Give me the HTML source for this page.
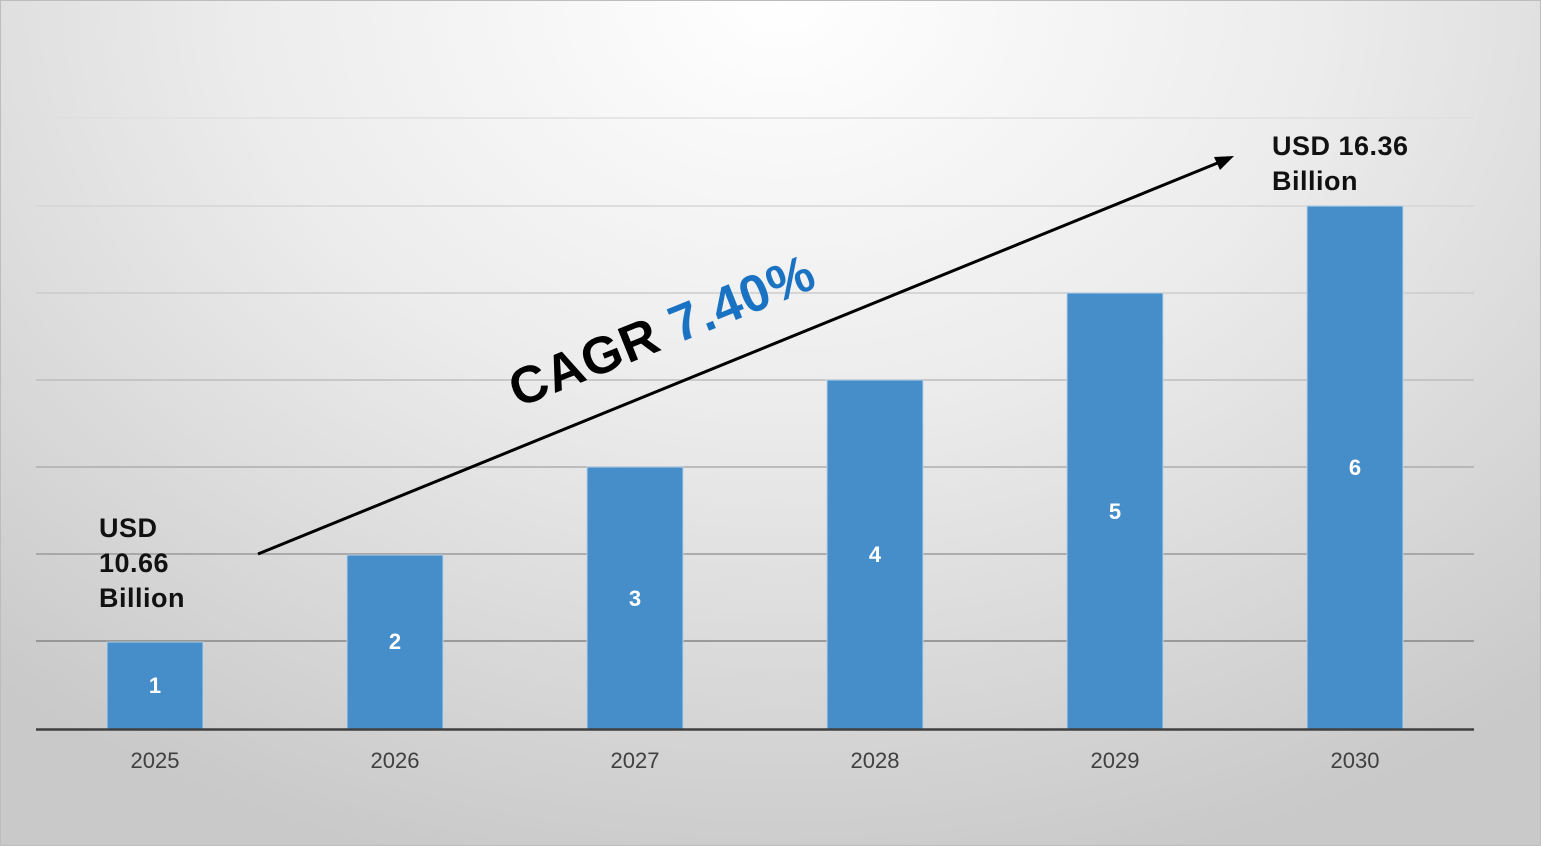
<!DOCTYPE html>
<html><head><meta charset="utf-8"><style>
html,body{margin:0;padding:0}
body{width:1541px;height:846px;overflow:hidden;background:radial-gradient(ellipse 1200px 900px at 780px 0px,#ffffff 0%,#ececec 45%,#c9c9c9 100%);}
svg{position:absolute;left:0;top:0}
</style></head><body>
<svg width="1541" height="846" xmlns="http://www.w3.org/2000/svg" font-family="Liberation Sans, DejaVu Sans, sans-serif">
<rect x="0.5" y="0.5" width="1540" height="845" fill="none" stroke="#bdbdbd"/>
<g stroke-width="1.5">
<line x1="36" x2="1474" y1="118" y2="118" stroke="#e0e0e0"/>
<line x1="36" x2="1474" y1="206" y2="206" stroke="#d6d6d6"/>
<line x1="36" x2="1474" y1="293" y2="293" stroke="#cccccc"/>
<line x1="36" x2="1474" y1="380" y2="380" stroke="#bdbdbd"/>
<line x1="36" x2="1474" y1="467" y2="467" stroke="#adadad"/>
<line x1="36" x2="1474" y1="554" y2="554" stroke="#9a9a9a"/>
<line x1="36" x2="1474" y1="641" y2="641" stroke="#858585"/>
</g>
<g fill="#468ec9" stroke="#b9d3ea" stroke-width="1">
<rect x="107" y="642" width="96" height="87"/>
<rect x="347" y="555" width="96" height="174"/>
<rect x="587" y="467" width="96" height="262"/>
<rect x="827" y="380" width="96" height="349"/>
<rect x="1067" y="293" width="96" height="436"/>
<rect x="1307" y="206" width="96" height="523"/>
</g>
<line x1="36" x2="1474" y1="729.5" y2="729.5" stroke="#404040" stroke-width="2.5"/>
<g fill="#fff" font-weight="bold" font-size="22" text-anchor="middle">
<text x="155" y="693">1</text><text x="395" y="649">2</text><text x="635" y="606">3</text>
<text x="875" y="562">4</text><text x="1115" y="519">5</text><text x="1355" y="475">6</text>
</g>
<g fill="#404040" font-size="22" text-anchor="middle">
<text x="155" y="768">2025</text><text x="395" y="768">2026</text><text x="635" y="768">2027</text>
<text x="875" y="768">2028</text><text x="1115" y="768">2029</text><text x="1355" y="768">2030</text>
</g>
<g fill="#111" font-weight="bold" font-size="27" letter-spacing="0.5">
<text x="99" y="537">USD</text><text x="99" y="572">10.66</text><text x="99" y="607">Billion</text>
<text x="1272" y="155">USD 16.36</text><text x="1272" y="190">Billion</text>
</g>
<line x1="258" y1="554" x2="1220" y2="162" stroke="#000" stroke-width="3"/>
<polygon points="1234,156 1214,157 1220,170" fill="#000"/>
<text transform="translate(518,408) rotate(-22)" font-size="52" font-weight="bold" letter-spacing="1"><tspan fill="#000">CAGR </tspan><tspan fill="#1a73c2">7.40%</tspan></text>
</svg>
</body></html>
